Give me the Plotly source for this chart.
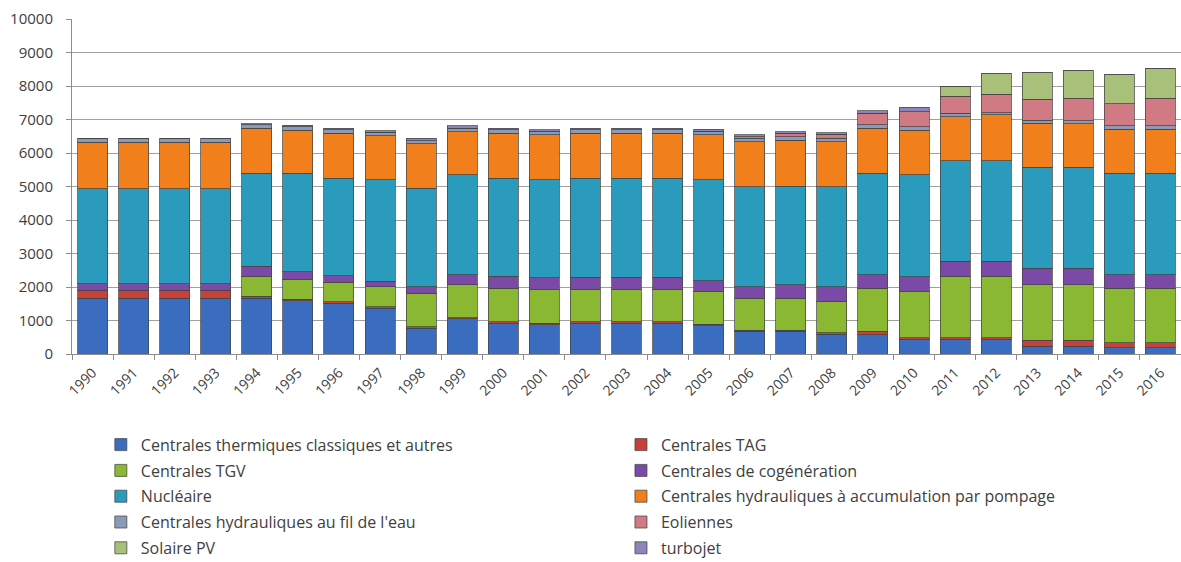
import plotly.graph_objects as go

years = [str(y) for y in range(1990, 2017)]

# Installed capacity per technology (MW), one value per year 1990..2016
thermiques = [1670, 1670, 1670, 1670, 1670, 1590, 1520, 1370, 775, 1045, 925, 875, 925, 925, 925, 845, 675, 675, 595,
              575, 445, 445, 445, 225, 225, 180, 180]
tag = [230, 230, 230, 230, 50, 40, 40, 40, 40, 40, 40, 40, 40, 40, 40, 40, 40, 40, 40,
       100, 40, 40, 40, 180, 180, 150, 150]
tgv = [0, 0, 0, 0, 595, 605, 575, 605, 1005, 985, 1005, 1005, 975, 975, 975, 985, 955, 955, 935,
       1295, 1380, 1830, 1830, 1660, 1660, 1640, 1640]
cogeneration = [200, 200, 200, 200, 300, 225, 200, 150, 195, 300, 345, 350, 345, 345, 345, 320, 345, 395, 445,
                395, 445, 450, 450, 500, 500, 395, 395]
nucleaire = [2830, 2830, 2830, 2830, 2785, 2935, 2915, 3035, 2935, 2980, 2935, 2930, 2965, 2965, 2965, 3010, 2985, 2950, 2985,
             3035, 3035, 3010, 3010, 3010, 3010, 3035, 3035]
pompage = [1390, 1390, 1390, 1390, 1340, 1290, 1340, 1315, 1320, 1290, 1340, 1345, 1340, 1340, 1340, 1345, 1340, 1370, 1340,
           1340, 1340, 1310, 1365, 1310, 1295, 1310, 1310]
fil_eau = [100, 100, 100, 100, 100, 100, 100, 100, 100, 100, 100, 100, 100, 100, 100, 100, 100, 100, 100,
           100, 100, 100, 65, 100, 100, 100, 100]
eoliennes = [0, 0, 0, 0, 0, 0, 0, 0, 0, 0, 0, 0, 0, 0, 0, 0, 50, 100, 120,
             350, 445, 515, 555, 615, 665, 655, 825]
solaire_pv = [0, 0, 0, 0, 0, 0, 0, 0, 0, 0, 0, 0, 0, 0, 0, 0, 0, 0, 0,
              0, 0, 300, 605, 795, 825, 865, 895]
turbojet = [0, 0, 0, 0, 30, 50, 50, 50, 70, 70, 50, 50, 50, 50, 50, 70, 50, 50, 50,
            70, 130, 0, 0, 0, 0, 0, 0]

series = [
    ("Centrales thermiques classiques et autres", thermiques, "#3a6cc0", "legend"),
    ("Centrales TAG", tag, "#c8403a", "legend2"),
    ("Centrales TGV", tgv, "#8ab833", "legend"),
    ("Centrales de cogénération", cogeneration, "#7a4aa6", "legend2"),
    ("Nucléaire", nucleaire, "#2a9bbd", "legend"),
    ("Centrales hydrauliques à accumulation par pompage", pompage, "#f07f1c", "legend2"),
    ("Centrales hydrauliques au fil de l'eau", fil_eau, "#8a9ab8", "legend"),
    ("Eoliennes", eoliennes, "#d07a84", "legend2"),
    ("Solaire PV", solaire_pv, "#a8c07a", "legend"),
    ("turbojet", turbojet, "#8a86b8", "legend2"),
]

fig = go.Figure()
for i, (name, vals, color, leg) in enumerate(series):
    fig.add_trace(go.Bar(
        x=years, y=vals, name=name, legend=leg, legendgroup=f"g{i}",
        marker=dict(color=color, line=dict(color="rgba(70,70,70,0.75)", width=1)),
    ))

legend_font = dict(family="Open Sans, sans-serif", size=16, color="#404040")
legend_common = dict(
    orientation="v", traceorder="grouped", tracegroupgap=2,
    yanchor="top", y=-0.220, xanchor="left",
    font=legend_font, bgcolor="rgba(0,0,0,0)", itemclick=False,
)

fig.update_layout(
    width=1181, height=562,
    margin=dict(l=72, r=0, t=19, b=208, autoexpand=False),
    barmode="stack", bargap=0.27,
    plot_bgcolor="white", paper_bgcolor="white",
    font=dict(family="Open Sans, sans-serif", size=14, color="#404040"),
    legend=dict(x=0.026, **legend_common),
    legend2=dict(x=0.495, **legend_common),
    xaxis=dict(
        type="category", tickangle=-45, showgrid=False,
        showline=True, linecolor="#8c8c8c", linewidth=1,
        ticks="outside", tickson="boundaries", ticklen=5, tickcolor="#8c8c8c",
        ticklabelstandoff=4,
        tickfont=dict(size=14, color="#404040"),
    ),
    yaxis=dict(
        range=[0, 10000], dtick=1000, tickformat="d",
        showgrid=True, gridcolor="#a0a0a0", gridwidth=1,
        showline=True, linecolor="#8c8c8c", linewidth=1,
        ticks="outside", ticklen=5, tickcolor="#8c8c8c",
        ticklabelstandoff=10,
        tickfont=dict(size=15, color="#404040"), zeroline=False,
    ),
)

fig.write_html("out.html")
